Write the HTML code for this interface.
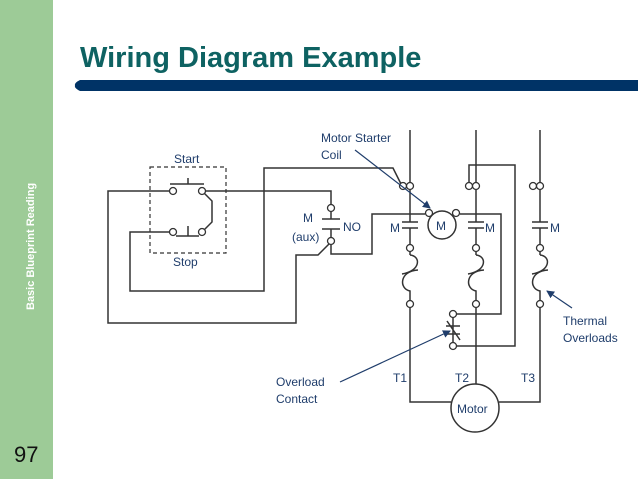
<!DOCTYPE html>
<html><head><style>
html,body{margin:0;padding:0;background:#fff;}
body{width:638px;height:479px;position:relative;overflow:hidden;font-family:"Liberation Sans",sans-serif;}
</style></head><body>
<svg width="638" height="479" viewBox="0 0 638 479" xmlns="http://www.w3.org/2000/svg" style="position:absolute;left:0;top:0">
<defs>
<marker id="ar" markerWidth="8" markerHeight="8" refX="7" refY="4" orient="auto" markerUnits="userSpaceOnUse">
<path d="M0,0 L8,4 L0,8 z" fill="#1f3d6b"/></marker>
<path id="ht" d="M0,255 C11,256 11,271 -8,274 M8,270 C-11,271 -11,289 0,291 L0,300" fill="none"/>
</defs>
<rect x="0" y="0" width="53" height="479" fill="#9dcb97"/>
<text transform="translate(34,310) rotate(-90)" font-family="Liberation Sans" font-weight="bold" font-size="11" fill="#fff">Basic Blueprint Reading</text>
<text x="14" y="462" font-family="Liberation Sans" font-size="22" fill="#111">97</text>
<text x="80" y="67" font-family="Liberation Sans" font-weight="bold" font-size="29" fill="#0e6262">Wiring Diagram Example</text>
<path d="M80,80 L638,80 L638,91 L80,91 Q74,88 75,85.5 Q74,83 80,80z" fill="#003366"/>

<g stroke="#333" stroke-width="1.5" fill="none">
<rect x="150" y="167" width="76" height="86" stroke-dasharray="4,3" stroke-width="1.2"/>
<line x1="170" y1="184" x2="204" y2="184"/><line x1="188" y1="178" x2="188" y2="184"/>
<line x1="176" y1="236" x2="199" y2="236"/><line x1="188" y1="226" x2="188" y2="236"/>
<path d="M204,193 L212,201 L212,222 L204,230"/>
<path d="M169,191 L108,191 L108,323 L296,323 L296,255 L318,255 L329,244"/>
<path d="M169,232 L130,232 L130,291 L264,291 L264,168 L393,168 L401,184"/>
<path d="M205,191 L331,191 L331,205"/>
<path d="M322,219 L340,219 M331,219 L331,211 M322,229 L340,229 M331,229 L331,238"/>
<path d="M331,245 L331,254 L372,254 L372,214 L425,214"/>
<path d="M410,130 L410,183 M410,190 L410,222 M402,222 L418,222 M402,228 L418,228 M410,228 L410,244 M410,251 L410,255"/>
<use href="#ht" x="410"/>
<path d="M410,307 L410,402 L451,402"/>
<path d="M476,130 L476,183 M476,190 L476,222 M468,222 L484,222 M468,228 L484,228 M476,228 L476,244 M476,251 L476,255"/>
<use href="#ht" x="476"/>
<path d="M476,307 L476,384"/>
<path d="M469,183 L469,165 L515,165 L515,346 L456,346"/>
<path d="M460,214 L501,214 L501,314 L456,314"/>
<path d="M453,317 L453,343 M446,326 L460,326 M446,334 L460,334 M447,321 L460,340"/>
<path d="M540,130 L540,183 M540,190 L540,222 M532,222 L548,222 M532,228 L548,228 M540,228 L540,244 M540,251 L540,255"/>
<use href="#ht" x="540"/>
<path d="M540,307 L540,402 L499,402"/>
<circle cx="442" cy="225" r="14"/>
<circle cx="475" cy="408" r="24"/>
</g>
<g stroke="#333" stroke-width="1.3" fill="#fff">
<circle cx="173" cy="191" r="3.5"/><circle cx="202" cy="191" r="3.5"/>
<circle cx="173" cy="232" r="3.5"/><circle cx="202" cy="232" r="3.5"/>
<circle cx="331" cy="208" r="3.5"/><circle cx="331" cy="241" r="3.5"/>
<circle cx="403" cy="186" r="3.5"/><circle cx="410" cy="186" r="3.5"/>
<circle cx="469" cy="186" r="3.5"/><circle cx="476" cy="186" r="3.5"/>
<circle cx="533" cy="186" r="3.5"/><circle cx="540" cy="186" r="3.5"/>
<circle cx="429" cy="213" r="3.5"/><circle cx="456" cy="213" r="3.5"/>
<circle cx="410" cy="248" r="3.5"/><circle cx="410" cy="304" r="3.5"/>
<circle cx="476" cy="248" r="3.5"/><circle cx="476" cy="304" r="3.5"/>
<circle cx="540" cy="248" r="3.5"/><circle cx="540" cy="304" r="3.5"/>
<circle cx="453" cy="314" r="3.5"/><circle cx="453" cy="346" r="3.5"/>
</g>
<g stroke="#1f3d6b" stroke-width="1.2" fill="none">
<line x1="355" y1="150" x2="430" y2="208" marker-end="url(#ar)"/>
<line x1="340" y1="382" x2="450" y2="331" marker-end="url(#ar)"/>
<line x1="572" y1="308" x2="547" y2="291" marker-end="url(#ar)"/>
</g>
<g font-family="Liberation Sans" font-size="12" fill="#1f3d6b">
<text x="174" y="163">Start</text>
<text x="173" y="266">Stop</text>
<text x="321" y="142">Motor Starter</text>
<text x="321" y="159">Coil</text>
<text x="303" y="222">M</text>
<text x="292" y="241">(aux)</text>
<text x="343" y="231">NO</text>
<text x="390" y="232">M</text>
<text x="436" y="230">M</text>
<text x="485" y="232">M</text>
<text x="550" y="232">M</text>
<text x="563" y="325">Thermal</text>
<text x="563" y="342">Overloads</text>
<text x="276" y="386">Overload</text>
<text x="276" y="403">Contact</text>
<text x="393" y="382">T1</text>
<text x="455" y="382">T2</text>
<text x="521" y="382">T3</text>
<text x="457" y="413">Motor</text>
</g>
</svg>
</body></html>
